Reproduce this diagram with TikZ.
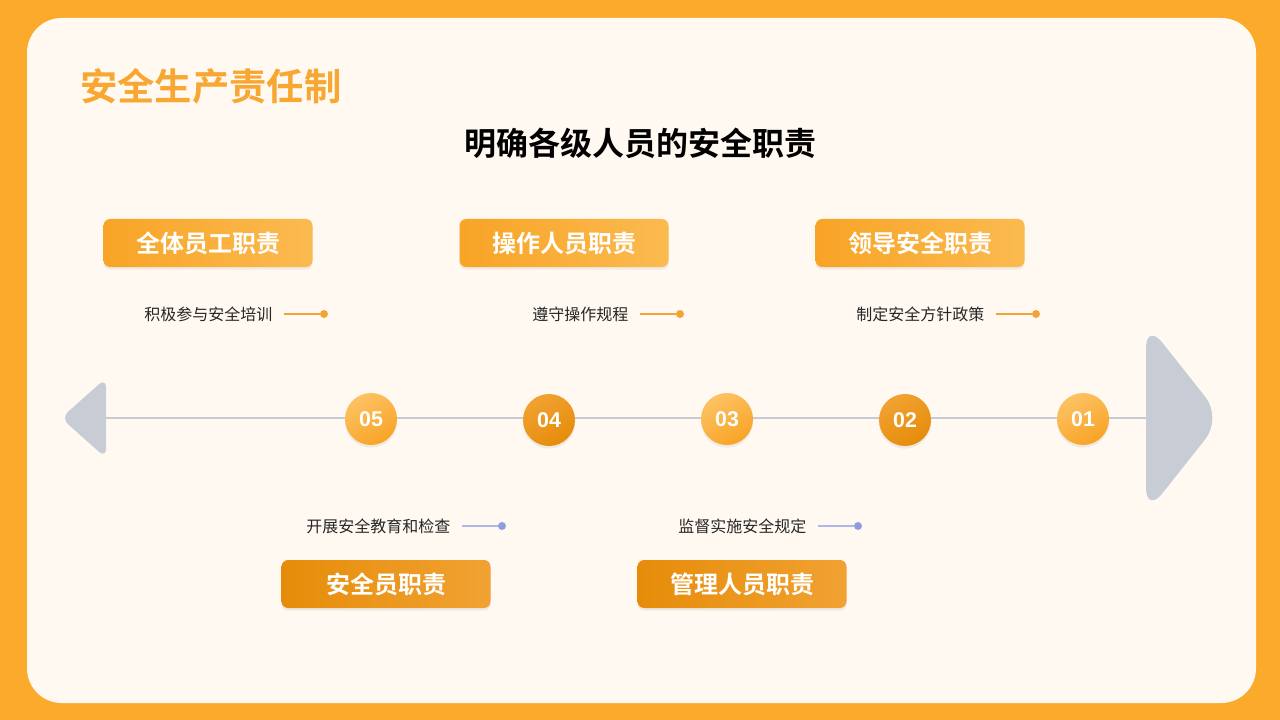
\documentclass[tikz,border=0pt]{standalone}
\usepackage{fontspec}
\setmainfont{Noto Sans CJK SC}[BoldFont={Noto Sans CJK SC Bold}]
\newfontfamily\numfont{Liberation Sans}
\usepackage{tikz}
\usetikzlibrary{
    positioning,
    shadows
}

\definecolor{pageorange}{HTML}{FBAA2B}
\definecolor{cardcream}{HTML}{FFF9F1}
\definecolor{titleorange}{HTML}{F8A832}
\definecolor{railgray}{HTML}{C6CBD3}
\definecolor{arrowgray}{HTML}{C8CDD5}
\definecolor{lightA}{HTML}{F8A426}
\definecolor{lightB}{HTML}{FBBA50}
\definecolor{dotlightB}{HTML}{FDC264}
\definecolor{darkA}{HTML}{E68C0A}
\definecolor{darkB}{HTML}{F1A232}
\definecolor{tickorange}{HTML}{F2A536}
\definecolor{tickblue}{HTML}{8E9CE2}
\definecolor{tickblueline}{HTML}{AEB8EC}

\begin{document}
\begin{tikzpicture}[
    x=0.75pt,
    y=-0.75pt,
    node distance=27pt,
    roleblock/.style={
        rectangle,
        rounded corners=5pt,
        minimum width=156.75pt,
        minimum height=36pt,
        text=white,
        font=\bfseries\fontsize{18}{20}\selectfont,
        drop shadow={opacity=0.12, shadow xshift=0pt, shadow yshift=-2pt}
    },
    topblock/.style={
        roleblock,
        left color=lightA,
        right color=lightB
    },
    bottomblock/.style={
        roleblock,
        left color=darkA,
        right color=darkB
    },
    stepdot/.style={
        circle,
        minimum size=39pt,
        inner sep=0pt,
        text=white,
        font=\numfont\bfseries\fontsize{16}{18}\selectfont,
        drop shadow={opacity=0.12, shadow xshift=0pt, shadow yshift=-2pt}
    },
    lightdot/.style={
        stepdot,
        top color=dotlightB,
        bottom color=lightA,
        shading angle=30
    },
    darkdot/.style={
        stepdot,
        top color=darkB,
        bottom color=darkA,
        shading angle=30
    },
    duty/.style={
        inner xsep=8.25pt,
        inner ysep=2pt,
        font=\fontsize{12}{14}\selectfont,
        text=black!85
    },
    endmark/.style={
        circle,
        minimum size=6pt,
        inner sep=0pt
    },
    orangetick/.style={draw=tickorange, line width=1pt},
    bluetick/.style={draw=tickblueline, line width=1pt}
]

% Page and card
\fill[pageorange] (0,0) rectangle (1280,720);
\fill[cardcream, rounded corners=26pt] (27,18) rectangle (1256,703);
\useasboundingbox (0,0) rectangle (1280,720);

% Titles
\node[anchor=west, inner sep=0pt, text=titleorange,
      font=\bfseries\fontsize{28}{30}\selectfont] (title) at (80,86) {安全生产责任制};
\node[inner sep=0pt, font=\bfseries\fontsize{24}{26}\selectfont] (subtitle) at (640,143) {明确各级人员的安全职责};

% Timeline
\fill[arrowgray, rounded corners=7pt] (61,418) -- (106,378) -- (106,458) -- cycle;
\fill[arrowgray, rounded corners=20pt] (1146,322) -- (1222,418) -- (1146,514) -- cycle;
\coordinate (railstart) at (106,418);
\coordinate (railend) at (1146,418);
\draw[railgray, line width=2pt] (railstart) -- (railend);

% Steps
\node[lightdot] (s05) at (371,419) {05};
\node[darkdot]  (s04) at (549,420) {04};
\node[lightdot] (s03) at (727,419) {03};
\node[darkdot]  (s02) at (905,420) {02};
\node[lightdot] (s01) at (1083,419) {01};

% Upper role blocks
\node[topblock] (allstaff) at (208,243) {全体员工职责};
\node[topblock] (operator) at (564,243) {操作人员职责};
\node[topblock] (leader) at (920,243) {领导安全职责};

\node[endmark, fill=tickorange] (m1) at (324,314) {};
\node[duty, left=of m1] (d1) {积极参与安全培训};
\draw[orangetick] (d1) -- (m1);

\node[endmark, fill=tickorange] (m2) at (680,314) {};
\node[duty, left=of m2] (d2) {遵守操作规程};
\draw[orangetick] (d2) -- (m2);

\node[endmark, fill=tickorange] (m3) at (1036,314) {};
\node[duty, left=of m3] (d3) {制定安全方针政策};
\draw[orangetick] (d3) -- (m3);

% Lower role blocks
\node[bottomblock] (safetyofficer) at (386,584) {安全员职责};
\node[bottomblock] (manager) at (742,584) {管理人员职责};

\node[endmark, fill=tickblue] (m4) at (502,526) {};
\node[duty, left=of m4] (d4) {开展安全教育和检查};
\draw[bluetick] (d4) -- (m4);

\node[endmark, fill=tickblue] (m5) at (858,526) {};
\node[duty, left=of m5] (d5) {监督实施安全规定};
\draw[bluetick] (d5) -- (m5);

\end{tikzpicture}
\end{document}
